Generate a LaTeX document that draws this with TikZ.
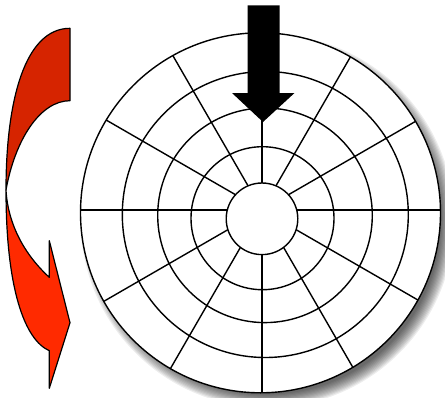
\documentclass[tikz,border=0pt]{standalone}
\definecolor{redback}{RGB}{214,36,0}
\definecolor{redfront}{RGB}{255,42,0}
\tikzset{
  diskline/.style={draw=black,line width=1.4pt},
  redshape/.style={draw=black,line width=1.2pt,line join=round},
}
\begin{document}
\begin{tikzpicture}[x=1pt,y=-1pt]
\useasboundingbox (0,0) rectangle (445,397);
% centres
\coordinate (co) at (260.5,212.8);
\coordinate (c4) at (265.3,214.5);
\coordinate (c3) at (265,215.3);
\coordinate (c2) at (262.5,218.2);
\coordinate (c1) at (262,218.8);
\coordinate (sp) at (262,210);
% blurred shadow
\foreach \k in {1,...,12}{
  \fill[black,opacity=0.07] ([shift={(7,8)}]co) circle ({188-\k*1.2});
}
% disk
\fill[white] (co) circle (180);
\begin{scope}
  \clip (co) circle (180);
  \foreach \a in {0,30,...,330}{
    \draw[diskline] (sp) -- ++(\a:200);
  }
\end{scope}
\draw[diskline] (c4) circle (143);
\draw[diskline] (c3) circle (107.3);
\draw[diskline] (c2) circle (71.5);
\fill[white] (c1) circle (35.8);
\draw[diskline] (c1) circle (35.8);
\draw[diskline] (co) circle (180);
% black arrow
\fill[black] (247.5,5.3) -- (279.5,5.3) -- (279.5,93) -- (294.5,93)
  -- (263,122) -- (232,93) -- (247.5,93) -- cycle;
% red curved arrow: back band
\filldraw[redshape,fill=redback] (70,28.3) .. controls (25,28.3) and (6,100) .. (6,190)
  .. controls (15,140) and (40,100.7) .. (70,100.7) -- cycle;
% front band with head
\filldraw[redshape,fill=redfront] (6,190) .. controls (6,290) and (25,340) .. (49.3,350.7)
  -- (49.3,388.3) -- (70,322.7) -- (49.3,240.7) -- (49.3,277.3)
  .. controls (25,255) and (8,225) .. (6,190) -- cycle;
\end{tikzpicture}
\end{document}
